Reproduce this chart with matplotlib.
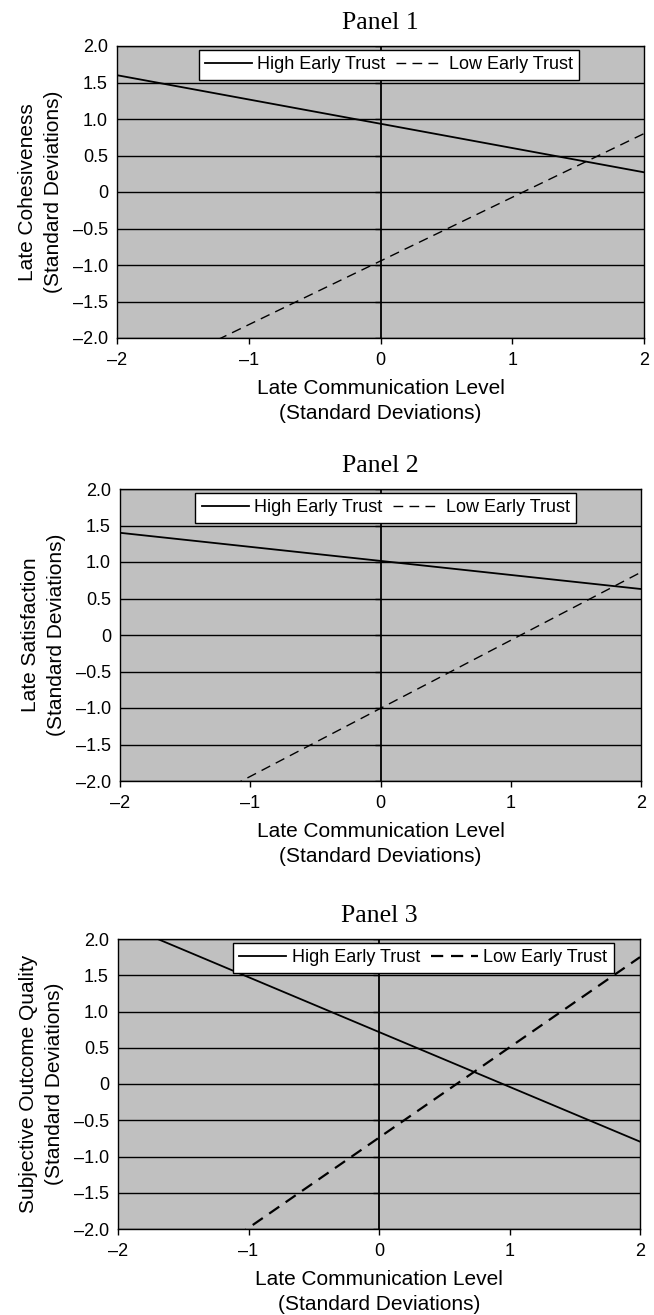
import numpy as np
import matplotlib
matplotlib.use('Agg')
import matplotlib.pyplot as plt

plt.rcParams['font.family'] = ['Liberation Sans', 'DejaVu Sans']

# data (values at x = -2, 0, 2)
commLevel = [-2, 0, 2]
panelTitles = ['Panel 1', 'Panel 2', 'Panel 3']
yLabels = ['Late Cohesiveness\n(Standard Deviations)',
           'Late Satisfaction\n(Standard Deviations)',
           'Subjective Outcome Quality\n(Standard Deviations)']
highTrust1 = [1.60, 0.935, 0.27]
lowTrust1 = [-2.69, -0.945, 0.80]
highTrust2 = [1.40, 1.015, 0.63]
lowTrust2 = [-2.87, -1.005, 0.86]
highTrust3 = [2.23, 0.717, -0.795]
lowTrust3 = [-3.23, -0.74, 1.75]

yTicks = [-2.0, -1.5, -1.0, -0.5, 0, 0.5, 1.0, 1.5, 2.0]
yTickLabels = ['\u20132.0', '\u20131.5', '\u20131.0', '\u20130.5', '0', '0.5', '1.0', '1.5', '2.0']
xTicks = [-2, -1, 0, 1, 2]
xTickLabels = ['\u20132', '\u20131', '0', '1', '2']

W, H = 654, 1315
# axes boxes in pixels: left, top, right, bottom
boxes = [(117, 46, 644, 338), (120, 489, 641, 781), (118, 939, 640, 1229)]
legendX = [0.516, 0.51, 0.585]
dashStyles = [(0, (7, 4.5)), (0, (7, 4.5)), (0, (5.5, 3.5))]
dashWidths = [1.0, 1.0, 1.6]

fig = plt.figure(figsize=(W / 100, H / 100), dpi=100)

series = [(highTrust1, lowTrust1), (highTrust2, lowTrust2), (highTrust3, lowTrust3)]

for i in range(3):
    l, t, r, b = boxes[i]
    ax = fig.add_axes([l / W, 1 - b / H, (r - l) / W, (b - t) / H])
    ax.set_facecolor('#c0c0c0')
    for yv in yTicks:
        ax.axhline(yv, color='black', linewidth=1.0, zorder=1)
    ax.axvline(0, color='black', linewidth=1.3, zorder=1)
    ax.plot([0] * len(yTicks), yTicks, linestyle='none', marker=0,
            markersize=4, color='black', markeredgewidth=1.0, zorder=1)

    high, low = series[i]
    ax.plot(commLevel, high, color='black', linewidth=1.3, linestyle='-',
            label='High Early Trust', zorder=3)
    ax.plot(commLevel, low, color='black', linewidth=dashWidths[i],
            linestyle=dashStyles[i], label='Low Early Trust', zorder=3)

    ax.set_xlim(-2, 2)
    ax.set_ylim(-2, 2)
    ax.set_xticks(xTicks)
    ax.set_xticklabels(xTickLabels)
    ax.set_yticks(yTicks)
    ax.set_yticklabels(yTickLabels)
    ax.tick_params(axis='y', length=0, pad=6.5, labelsize=13)
    ax.tick_params(axis='x', length=4.5, width=1.0, direction='out', pad=5.5, labelsize=13)
    for s in ax.spines.values():
        s.set_color('black')
        s.set_linewidth(1.0)

    ax.set_xlabel('Late Communication Level\n(Standard Deviations)', fontsize=15,
                  linespacing=1.45, labelpad=7)
    ax.set_ylabel(yLabels[i], fontsize=15, linespacing=1.45, labelpad=7)
    ax.set_title(panelTitles[i], family='Liberation Serif', fontsize=18.5, pad=12)

    leg = ax.legend(loc='upper center', bbox_to_anchor=(legendX[i], 0.986), ncol=2,
                    frameon=True, fancybox=False, shadow=False, fontsize=13,
                    handlelength=2.6, handletextpad=0.3, columnspacing=0.6,
                    borderpad=0.35, borderaxespad=0)
    leg.get_frame().set_edgecolor('black')
    leg.get_frame().set_linewidth(1.0)
    leg.get_frame().set_facecolor('white')
    leg.get_frame().set_alpha(1)

fig.savefig('out.png', dpi=100)
